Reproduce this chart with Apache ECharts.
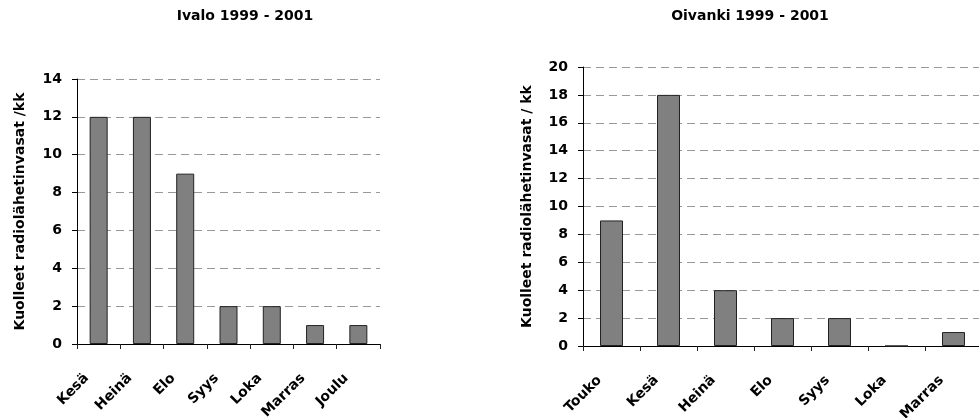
<!DOCTYPE html>
<html>
<head>
<meta charset="utf-8">
<script src="https://cdn.jsdelivr.net/npm/echarts@6/dist/echarts.min.js"></script>
<style>
  html, body { margin: 0; padding: 0; background: #fff; }
  #chart { width: 979px; height: 418px; }
</style>
</head>
<body>
<div id="chart"></div>
<script>
// Dead radio-collared animals per month, two study areas
const ivaloTitle = 'Ivalo 1999 - 2001';
const ivaloMonths = ['Kesä', 'Heinä', 'Elo', 'Syys', 'Loka', 'Marras', 'Joulu'];
const ivaloCounts = [12, 12, 9, 2, 2, 1, 1];
const ivaloAxisName = 'Kuolleet radiolähetinvasat /kk';
const ivaloScale = [0, 14, 2]; // min, max, step

const oivankiTitle = 'Oivanki 1999 - 2001';
const oivankiMonths = ['Touko', 'Kesä', 'Heinä', 'Elo', 'Syys', 'Loka', 'Marras'];
const oivankiCounts = [9, 18, 4, 2, 2, 0, 1];
const oivankiAxisName = 'Kuolleet radiolähetinvasat / kk';
const oivankiScale = [0, 20, 2];

const FONT = 'DejaVu Sans';
const textBase = { fontFamily: FONT, fontWeight: 'bold', fontSize: 14, color: '#000' };

function catAxis(gridIndex, months) {
  return {
    type: 'category',
    gridIndex,
    data: months,
    boundaryGap: true,
    axisLine: { lineStyle: { color: '#000', width: 1 } },
    axisTick: { show: true, length: 5, inside: false, lineStyle: { color: '#222' } },
    // slanted month names, pulled a little back along their own direction
    axisLabel: Object.assign({ rotate: 45, interval: 0, margin: 20, padding: [0, 17, 0, 0] }, textBase),
    splitLine: { show: false }
  };
}

function valAxis(gridIndex, scale, name, gap) {
  return {
    type: 'value',
    gridIndex,
    min: scale[0],
    max: scale[1],
    interval: scale[2],
    name,
    nameLocation: 'middle',
    nameGap: gap,
    nameRotate: 90,
    nameTextStyle: textBase,
    axisLine: { show: true, lineStyle: { color: '#000', width: 1 } },
    axisTick: { show: true, length: 5, lineStyle: { color: '#000' } },
    axisLabel: Object.assign({ margin: 15 }, textBase),
    splitLine: { show: true, lineStyle: { color: '#999', width: 1, type: [8, 5] } }
  };
}

function barSeries(index, values, width) {
  return {
    type: 'bar',
    xAxisIndex: index,
    yAxisIndex: index,
    data: values,
    barWidth: width,
    itemStyle: { color: '#808080', borderColor: '#222', borderWidth: 1 },
    silent: true
  };
}

const chart = echarts.init(document.getElementById('chart'), null, { renderer: 'canvas' });
chart.setOption({
  backgroundColor: '#fff',
  animation: false,
  title: [
    { text: ivaloTitle, left: 240, top: 4, textAlign: 'center', textStyle: textBase },
    { text: oivankiTitle, left: 745, top: 4, textAlign: 'center', textStyle: textBase }
  ],
  grid: [
    { left: 77, top: 79, width: 303, height: 265, outerBoundsMode: 'none' },
    { left: 583, top: 67, width: 399, height: 279, outerBoundsMode: 'none' }
  ],
  xAxis: [catAxis(0, ivaloMonths), catAxis(1, oivankiMonths)],
  yAxis: [
    valAxis(0, ivaloScale, ivaloAxisName, 50),
    valAxis(1, oivankiScale, oivankiAxisName, 49)
  ],
  series: [barSeries(0, ivaloCounts, 18), barSeries(1, oivankiCounts, 23)]
});
</script>
</body>
</html>
